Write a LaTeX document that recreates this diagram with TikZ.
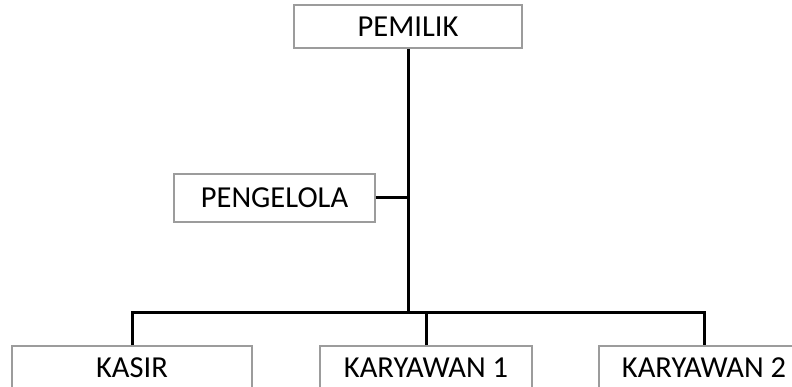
\documentclass[tikz,border=0pt]{standalone}
\usepackage{fontspec}
\setmainfont{Carlito}
\begin{document}
\begin{tikzpicture}[x=1pt,y=1pt,
  box/.style={draw=boxgray, line width=1.2pt, fill=white, inner sep=0pt,
    minimum height=43pt, text height=19.3pt, text depth=0pt,
    font=\fontsize{30.5}{36}\selectfont},
  link/.style={line width=3pt, black}]
\definecolor{boxgray}{HTML}{9C9C9C}
\useasboundingbox (0,0) rectangle (792,387);
\clip (0,0) rectangle (792,387);
\node[box, minimum width=228pt] (pem) at (408,360.5) {PEMILIK};
\node[box, minimum width=201pt, minimum height=48pt] (pen) at (274.5,189) {PENGELOLA};
\node[box, minimum width=240pt] (kas) at (132,19.5) {KASIR};
\node[box, minimum width=212pt] (ka1) at (426,19.5) {KARYAWAN 1};
\node[box, minimum width=210pt] (ka2) at (704,19.5) {KARYAWAN 2};
\coordinate (jn) at (408,74);
\coordinate (jp) at (408,189);
\draw[link] (pem.south) -- (jn);
\draw[link] (pen.east) -- (jp);
\draw[link] (kas.north) |- (jn) -| (ka2.north);
\draw[link] (ka1.north) -- (ka1.north |- jn);
\end{tikzpicture}
\end{document}
